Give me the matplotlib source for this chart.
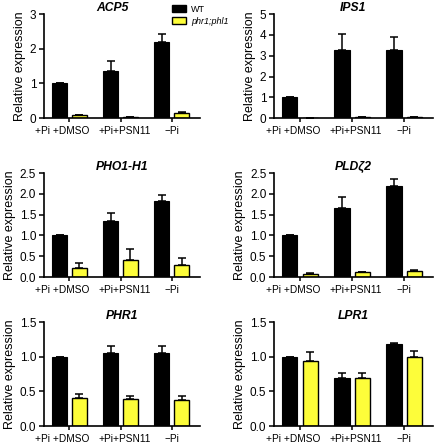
import matplotlib
matplotlib.use("Agg")
import matplotlib.pyplot as plt
import matplotlib.transforms as mtransforms
from matplotlib.patches import Patch

plt.rcParams['font.family'] = ['Liberation Sans', 'DejaVu Sans']

# data
treatments = ["+Pi +DMSO", "+Pi+PSN11", "\u2212Pi"]
genes = ["ACP5", "IPS1", "PHO1-H1", "PLD\u03b62", "PHR1", "LPR1"]

wt_mean = [[1.0, 1.36, 2.2], [1.0, 3.28, 3.26], [1.0, 1.35, 1.84],
           [1.0, 1.66, 2.2], [1.0, 1.06, 1.06], [1.0, 0.69, 1.18]]
wt_err = [[0.0, 0.29, 0.23], [0.0, 0.75, 0.63], [0.0, 0.18, 0.13],
          [0.0, 0.27, 0.16], [0.0, 0.10, 0.10], [0.0, 0.08, 0.02]]
mut_mean = [[0.08, 0.03, 0.15], [0.02, 0.05, 0.05], [0.22, 0.41, 0.30],
            [0.08, 0.11, 0.15], [0.41, 0.39, 0.38], [0.94, 0.69, 0.99]]
mut_err = [[0.02, 0.0, 0.03], [0.0, 0.01, 0.01], [0.11, 0.26, 0.16],
           [0.02, 0.02, 0.03], [0.05, 0.05, 0.05], [0.13, 0.08, 0.10]]

ytick_vals = [[0, 1, 2, 3], [0, 1, 2, 3, 4, 5],
              [0.0, 0.5, 1.0, 1.5, 2.0, 2.5], [0.0, 0.5, 1.0, 1.5, 2.0, 2.5],
              [0.0, 0.5, 1.0, 1.5], [0.0, 0.5, 1.0, 1.5]]
ytick_fmt = ["{:.0f}", "{:.0f}", "{:.1f}", "{:.1f}", "{:.1f}", "{:.1f}"]

wt_color = "black"
mut_color = "#fdfd3a"

fig = plt.figure(figsize=(4.35, 4.44), dpi=100)

col_x = [0.101, 0.630]
row_y = [0.734, 0.376, 0.0405]
w = [0.358, 0.365]
h = 0.234

x = range(len(treatments))
bw = 0.29
off = 0.195
label_shift = [-7, 4, 0]  # px, labels sit a bit off their ticks

for i, gene in enumerate(genes):
    r, c = i // 2, i % 2
    ax = fig.add_axes([col_x[c], row_y[r], w[c], h])
    xs1 = [k - off for k in x]
    xs2 = [k + off for k in x]
    ax.bar(xs1, wt_mean[i], bw, color=wt_color, edgecolor="black", linewidth=0.8,
           yerr=[[0] * 3, wt_err[i]], error_kw=dict(ecolor="black", elinewidth=1.1,
                                                     capsize=3.2, capthick=1.1))
    ax.bar(xs2, mut_mean[i], bw, color=mut_color, edgecolor="black", linewidth=1.0,
           yerr=[[0] * 3, mut_err[i]], error_kw=dict(ecolor="black", elinewidth=1.1,
                                                      capsize=3.2, capthick=1.1))
    ax.set_xlim(-0.5, 2.55)
    ax.set_ylim(ytick_vals[i][0], ytick_vals[i][-1])
    ax.set_yticks(ytick_vals[i])
    ax.set_yticklabels([ytick_fmt[i].format(v) for v in ytick_vals[i]], fontsize=8.5)
    ax.set_xticks(list(x))
    ax.set_xticklabels([])
    trans = ax.get_xaxis_transform()
    for k, (lab, dx) in enumerate(zip(treatments, label_shift)):
        t = trans + mtransforms.ScaledTranslation(dx / 100, -8 / 100, fig.dpi_scale_trans)
        ax.text(k, 0, lab, transform=t, ha="center", va="top", fontsize=7.3)
    ax.tick_params(axis='x', length=3, width=1.1, pad=2)
    ax.tick_params(axis='y', length=3.5, width=1.1, pad=2)
    for s in ["top", "right"]:
        ax.spines[s].set_visible(False)
    for s in ["left", "bottom"]:
        ax.spines[s].set_linewidth(1.2)
    ax.set_ylabel("Relative expression", fontsize=9, labelpad=3)
    tx = 0.44 if i == 0 else 0.5
    ax.set_title(gene, fontsize=8.7, fontweight="bold", fontstyle="italic", pad=2.5, x=tx)

handles = [Patch(facecolor=wt_color, edgecolor="black", label="WT"),
           Patch(facecolor=mut_color, edgecolor="black", label="phr1;phl1")]
leg = fig.legend(handles=handles, loc="upper left", bbox_to_anchor=(0.385, 1.0),
                 frameon=False, fontsize=6.5, handlelength=1.6, handleheight=0.8,
                 handletextpad=0.5, labelspacing=0.35, borderaxespad=0.1)
leg.get_texts()[1].set_fontstyle("italic")

fig.savefig("out.png", dpi=100)
